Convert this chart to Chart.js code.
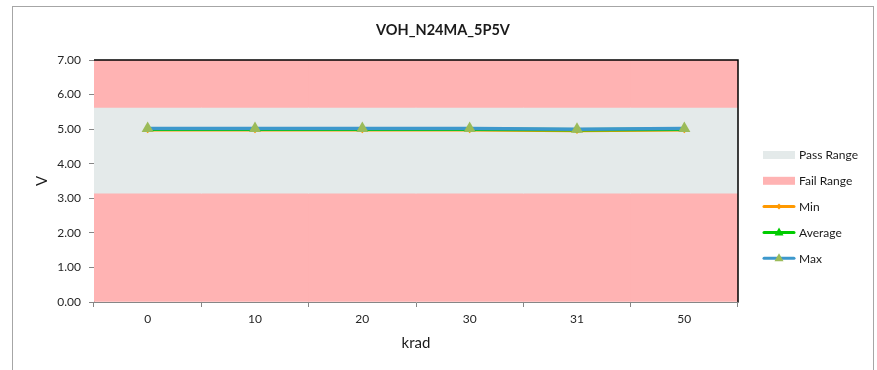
<!DOCTYPE html>
<html>
<head>
<meta charset="utf-8">
<script src="https://cdn.jsdelivr.net/npm/chart.js@4/dist/chart.umd.min.js"></script>
<style>
  body { margin: 0; background: #fff; }
  .wrap { position: relative; width: 877px; height: 370px; overflow: hidden; }
  .frame { position: absolute; left: 12px; top: 6px; width: 860px; height: 400px; border: 1.5px solid #a6a6a6; }
  #voh { position: absolute; left: 0; top: 0; }
</style>
</head>
<body>
<div class="wrap">
  <div class="frame"></div>
  <canvas id="voh" width="877" height="370"></canvas>
</div>
<script>
// krad steps and measured output-high voltages
const categories = ["0", "10", "20", "30", "31", "50"];
const minValues = [4.98, 4.98, 4.98, 4.98, 4.96, 4.98];
const avgValues = [5.00, 5.00, 5.00, 5.00, 4.98, 5.00];
const maxValues = [5.02, 5.02, 5.02, 5.02, 5.00, 5.02];

// limits
const passLow = 3.15;
const passHigh = 5.61;
const yMin = 0;
const yMax = 7;

const FONT = "Lato, 'Open Sans', sans-serif";
const AXIS_GRAY = "#868686";

const passBand = categories.map(() => [passLow, passHigh]);
const failBandLow = categories.map(() => [yMin, passLow]);
const failBandHigh = categories.map(() => [passHigh, yMax]);

const bandStyle = {
  type: "bar",
  grouped: false,
  barPercentage: 1,
  categoryPercentage: 1,
  borderWidth: 0,
  order: 10
};

function drawMarker(ctx, style, r, x, y) {
  if (style === "triangle") {
    ctx.moveTo(x, y - r);
    ctx.lineTo(x + r * 0.9, y + r * 0.6);
    ctx.lineTo(x - r * 0.9, y + r * 0.6);
    ctx.closePath();
  } else {
    ctx.moveTo(x, y - r);
    ctx.lineTo(x + r, y);
    ctx.lineTo(x, y + r);
    ctx.lineTo(x - r, y);
    ctx.closePath();
  }
}

// Title, plot frame and legend are painted by hand
const chrome = {
  id: "chrome",
  afterDatasetsDraw(chart) {
    const { ctx, chartArea: a } = chart;
    ctx.save();
    ctx.strokeStyle = "#000";
    ctx.lineWidth = 1.5;
    ctx.beginPath();
    ctx.moveTo(a.left, a.top);
    ctx.lineTo(a.right, a.top);
    ctx.lineTo(a.right, a.bottom);
    ctx.stroke();
    ctx.restore();
  },
  afterDraw(chart) {
    const { ctx } = chart;
    ctx.save();
    ctx.fillStyle = "#1a1a1a";
    ctx.font = "bold 14.5px " + FONT;
    ctx.textAlign = "center";
    ctx.textBaseline = "middle";
    ctx.fillText("VOH_N24MA_5P5V", 443, 30);

    const x0 = 763, w = 32;
    let y = 155;
    ctx.font = "12px " + FONT;
    ctx.textAlign = "left";
    chart.data.datasets.forEach(ds => {
      if (ds.legendHidden) return;
      if (ds.type === "bar") {
        ctx.fillStyle = ds.backgroundColor;
        ctx.fillRect(x0, y - 4, w, 8);
      } else {
        ctx.strokeStyle = ds.borderColor;
        ctx.lineWidth = 3;
        ctx.lineCap = "round";
        ctx.beginPath();
        ctx.moveTo(x0 + 1, y);
        ctx.lineTo(x0 + w - 1, y);
        ctx.stroke();
        ctx.fillStyle = ds.pointBackgroundColor;
        ctx.beginPath();
        drawMarker(ctx, ds.pointStyle, ds.legendPointRadius, x0 + w / 2, y);
        ctx.fill();
      }
      ctx.fillStyle = "#1a1a1a";
      ctx.fillText(ds.label, x0 + w + 4, y + 0.5);
      y += 25.8;
    });
    ctx.restore();
  }
};

new Chart(document.getElementById("voh"), {
  data: {
    labels: categories,
    datasets: [
      { ...bandStyle, label: "Pass Range", data: passBand, backgroundColor: "#e4eaea" },
      { ...bandStyle, label: "Fail Range", data: failBandLow, backgroundColor: "#ffb3b3" },
      { ...bandStyle, label: "Fail Range", data: failBandHigh, backgroundColor: "#ffb3b3", legendHidden: true },
      {
        type: "line", label: "Min", data: minValues, order: 3,
        borderColor: "#ff9900", borderWidth: 3.5,
        pointStyle: "rectRot", pointRadius: 3.5, pointBorderWidth: 0,
        pointBackgroundColor: "#ff9900", legendPointRadius: 3
      },
      {
        type: "line", label: "Average", data: avgValues, order: 2,
        borderColor: "#00cc00", borderWidth: 3.5,
        pointStyle: "triangle", pointRadius: 5, pointBorderWidth: 0,
        pointBackgroundColor: "#00cc00", legendPointRadius: 5
      },
      {
        type: "line", label: "Max", data: maxValues, order: 1,
        borderColor: "#3d98cc", borderWidth: 3.5,
        pointStyle: "triangle", pointRadius: 7, pointBorderWidth: 0,
        pointBackgroundColor: "#9bbb59", legendPointRadius: 5
      }
    ]
  },
  options: {
    responsive: false,
    animation: false,
    layout: { padding: { top: 60, right: 139, bottom: 0, left: 0 } },
    plugins: {
      legend: { display: false },
      title: { display: false },
      tooltip: { enabled: false }
    },
    scales: {
      x: {
        type: "category",
        offset: true,
        grid: { offset: true, drawOnChartArea: false, tickLength: 5, color: AXIS_GRAY },
        border: { color: AXIS_GRAY, width: 1 },
        ticks: { padding: 5, color: "#262626", font: { family: FONT, size: 12 } },
        title: {
          display: true, text: "krad", color: "#1a1a1a",
          font: { family: FONT, size: 15 }, padding: { top: 0, bottom: 18 }
        },
        afterFit(scale) { scale.height = 68; }
      },
      y: {
        min: yMin,
        max: yMax,
        grid: { drawOnChartArea: false, tickLength: 5, color: AXIS_GRAY },
        border: { color: AXIS_GRAY, width: 1 },
        ticks: {
          stepSize: 1, padding: 8, color: "#262626",
          font: { family: FONT, size: 12 },
          callback: v => v.toFixed(2)
        },
        title: {
          display: true, text: "V", color: "#1a1a1a",
          font: { family: FONT, size: 15 }, padding: { top: 33, bottom: 0 }
        },
        afterFit(scale) { scale.width = 94; }
      }
    }
  },
  plugins: [chrome]
});
</script>
</body>
</html>
